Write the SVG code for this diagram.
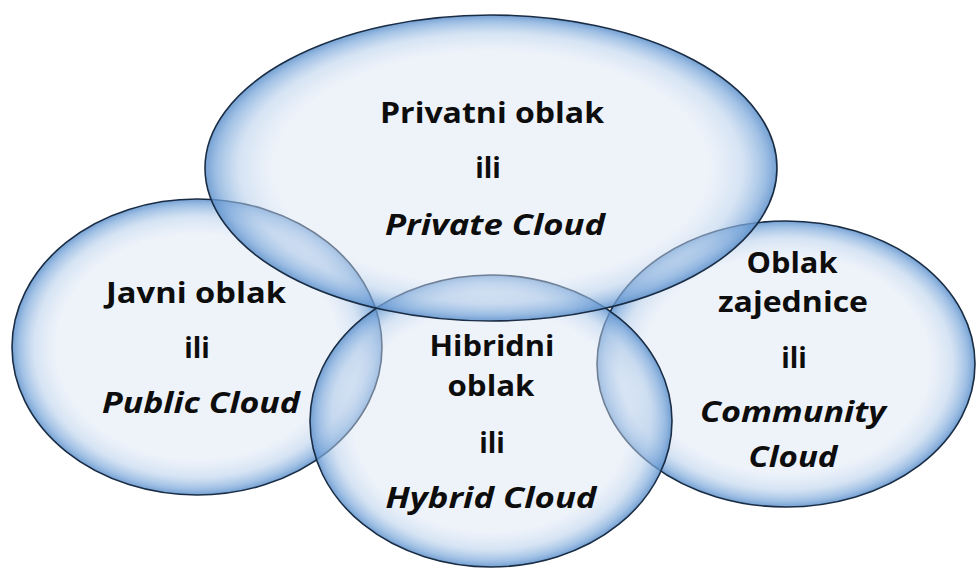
<svg xmlns="http://www.w3.org/2000/svg" width="977" height="570" viewBox="0 0 977 570">
<defs>
<radialGradient id="bub" cx="0.5" cy="0.5" r="0.5">
<stop offset="0" stop-color="#d9e4f4" stop-opacity="0.45"/>
<stop offset="0.76" stop-color="#d9e4f4" stop-opacity="0.45"/>
<stop offset="0.88" stop-color="#b4cdea" stop-opacity="0.55"/>
<stop offset="0.96" stop-color="#7aa7da" stop-opacity="0.72"/>
<stop offset="1" stop-color="#5b8fca" stop-opacity="0.85"/>
</radialGradient>
</defs>
<style>
.b{fill:url(#bub);stroke:#1a2d45;stroke-width:1.6}
text{font-family:"Open Sans","Liberation Sans",sans-serif;font-weight:bold;font-size:28px;fill:#0d0d0d;text-anchor:middle}
.i{font-style:italic}
</style>
<rect width="977" height="570" fill="#ffffff"/>
<g id="javni">
<ellipse class="b" cx="197" cy="347" rx="185" ry="148"/>
<text x="196" y="303" textLength="180" lengthAdjust="spacingAndGlyphs">Javni oblak</text>
<text x="197" y="358">ili</text>
<text class="i" x="201" y="413" textLength="198" lengthAdjust="spacingAndGlyphs">Public Cloud</text>
</g>
<g id="zajednice">
<ellipse class="b" cx="786" cy="364" rx="189" ry="143"/>
<text x="792" y="273" textLength="91" lengthAdjust="spacingAndGlyphs">Oblak</text>
<text x="793" y="312" textLength="150" lengthAdjust="spacingAndGlyphs">zajednice</text>
<text x="794" y="368">ili</text>
<text class="i" x="793" y="422" textLength="186" lengthAdjust="spacingAndGlyphs">Community</text>
<text class="i" x="793" y="467" textLength="89" lengthAdjust="spacingAndGlyphs">Cloud</text>
</g>
<g id="hibridni">
<ellipse class="b" cx="491" cy="421" rx="181" ry="146"/>
<text x="492" y="356" textLength="125" lengthAdjust="spacingAndGlyphs">Hibridni</text>
<text x="491" y="396" textLength="87" lengthAdjust="spacingAndGlyphs">oblak</text>
<text x="492" y="453">ili</text>
<text class="i" x="491" y="508" textLength="211" lengthAdjust="spacingAndGlyphs">Hybrid Cloud</text>
</g>
<g id="privatni">
<ellipse class="b" cx="491" cy="168" rx="286" ry="153"/>
<text x="492" y="123" textLength="224" lengthAdjust="spacingAndGlyphs">Privatni oblak</text>
<text x="488" y="178">ili</text>
<text class="i" x="495" y="235" textLength="220" lengthAdjust="spacingAndGlyphs">Private Cloud</text>
</g>
</svg>
